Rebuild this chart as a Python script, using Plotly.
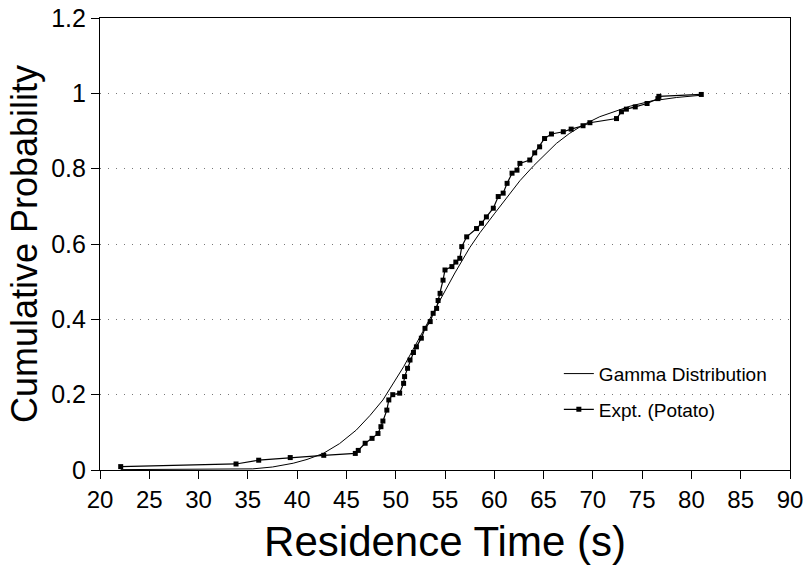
import plotly.graph_objects as go

# Experimental data (Potato)
expt_x = [22.1, 33.8, 36.1, 39.3, 42.7, 45.9, 46.2, 46.9, 47.6, 48.2, 48.5, 48.7, 49.1, 49.3,
          49.7, 50.4, 50.8, 50.9, 51.2, 51.45, 51.8, 52.1, 52.6, 52.97, 53.5, 53.8, 54.15, 54.3,
          54.5, 54.8, 55.0, 55.7, 56.1, 56.5, 56.7, 57.2, 58.2, 58.7, 59.2, 59.9, 60.4, 60.9,
          61.3, 61.8, 62.3, 62.6, 63.6, 64.1, 64.6, 65.1, 65.8, 67.0, 67.8, 69.0, 69.7, 72.4,
          72.9, 73.4, 74.3, 75.5, 76.6, 76.7, 81.0]
expt_y = [0.009, 0.016, 0.026, 0.033, 0.039, 0.044, 0.052, 0.071, 0.084, 0.097, 0.115, 0.130, 0.159, 0.186,
          0.200, 0.204, 0.230, 0.248, 0.270, 0.292, 0.312, 0.327, 0.350, 0.376, 0.394, 0.416, 0.429, 0.450,
          0.469, 0.504, 0.531, 0.540, 0.552, 0.562, 0.593, 0.619, 0.641, 0.655, 0.672, 0.695, 0.726, 0.735,
          0.761, 0.788, 0.796, 0.814, 0.823, 0.842, 0.858, 0.880, 0.892, 0.898, 0.905, 0.914, 0.922, 0.933,
          0.951, 0.958, 0.964, 0.973, 0.986, 0.992, 0.997]

# Gamma distribution curve
gamma_x = [22.1, 30.0, 35.5, 37.5, 39.6, 41.0, 42.65, 44.3, 46.0, 47.4, 48.7, 50.8, 52.6, 54.5,
           56.0, 57.5, 58.55, 60.0, 61.3, 62.6, 64.0, 65.2, 66.3, 67.6, 69.0, 70.7, 72.5, 73.8,
           76.0, 78.5, 81.0]
gamma_y = [0.001, 0.001, 0.003, 0.008, 0.018, 0.028, 0.044, 0.070, 0.106, 0.145, 0.186, 0.274, 0.360, 0.451,
           0.523, 0.590, 0.630, 0.680, 0.725, 0.768, 0.808, 0.840, 0.867, 0.893, 0.916, 0.938, 0.955, 0.966,
           0.980, 0.989, 0.995]

x_ticks = list(range(20, 91, 5))
y_ticks = [0, 0.2, 0.4, 0.6, 0.8, 1, 1.2]
y_tick_text = ["0", "0.2", "0.4", "0.6", "0.8", "1", "1.2"]

FONT = "Liberation Sans, Arial, sans-serif"

fig = go.Figure()
fig.add_trace(go.Scatter(
    x=gamma_x, y=gamma_y, mode="lines", name="Gamma Distribution",
    line=dict(color="black", width=1), legendgroup="g1"))
fig.add_trace(go.Scatter(
    x=expt_x, y=expt_y, mode="lines+markers", name="Expt. (Potato)",
    line=dict(color="black", width=1.2),
    marker=dict(symbol="square", size=5, color="black"), legendgroup="g2"))

fig.update_layout(
    width=807, height=570,
    margin=dict(l=100, r=17, t=18, b=100, autoexpand=False),
    paper_bgcolor="white", plot_bgcolor="white",
    font=dict(family=FONT, color="black"),
    showlegend=True,
    legend=dict(x=0.665, y=0.255, xanchor="left", yanchor="top",
                font=dict(size=19, family=FONT), bgcolor="rgba(0,0,0,0)",
                tracegroupgap=8, traceorder="grouped", itemwidth=30),
    xaxis=dict(range=[20, 90], tickvals=x_ticks, ticks="outside", ticklen=8, tickwidth=1,
               tickcolor="black", showline=True, linecolor="black", linewidth=1.2, mirror=True,
               showgrid=False, zeroline=False, tickfont=dict(size=24), automargin=False,
               title=dict(text="Residence Time (s)", font=dict(size=42), standoff=14)),
    yaxis=dict(range=[0, 1.2], tickvals=y_ticks, ticktext=y_tick_text, ticks="outside", ticklen=8,
               tickwidth=1, tickcolor="black", showline=True, linecolor="black", linewidth=1.2,
               mirror=True, showgrid=True, gridcolor="#777777", griddash="1px,7px", gridwidth=1,
               zeroline=False, tickfont=dict(size=25), automargin=False,
               title=dict(text="Cumulative Probability", font=dict(size=36), standoff=2)),
)

fig.write_html("out.html")
